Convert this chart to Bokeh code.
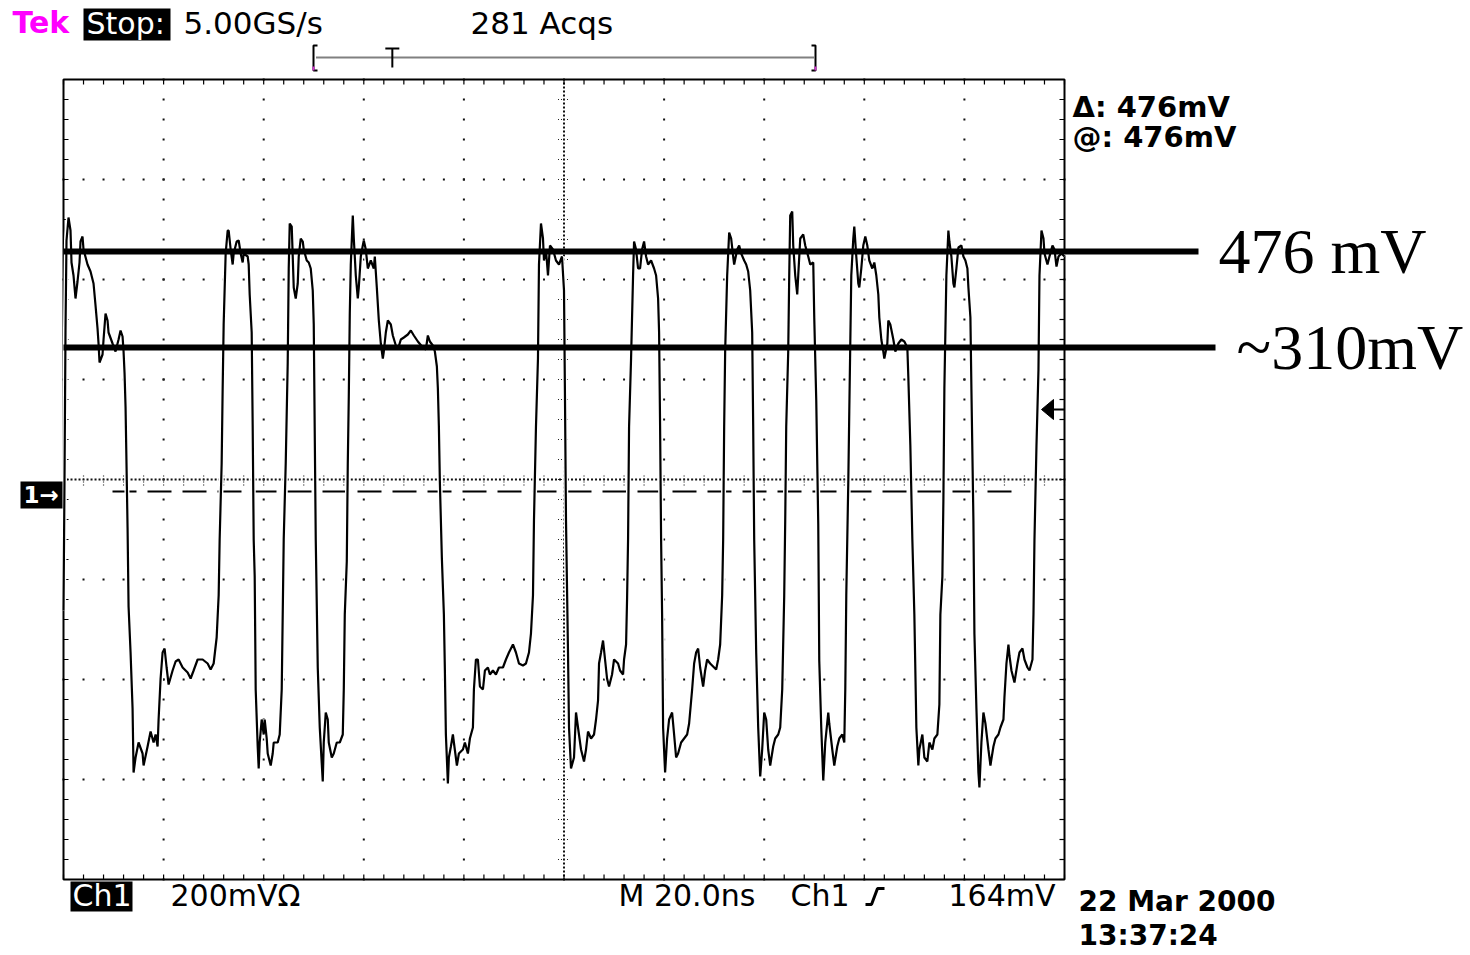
import numpy as np
from bokeh.plotting import figure
from bokeh.models import Range1d
from bokeh.core.properties import value
from bokeh.embed import file_html
from bokeh.resources import INLINE

# ---------------- data ----------------
# Channel 1 trace: time (ns) and voltage (mV, relative to the ground marker)
T_NS = [0.0, 0.2, 0.4, 0.6, 1.0, 1.4, 1.6, 2.0, 2.4, 2.8, 3.2, 3.4, 3.8, 4.0, 4.8, 5.4, 6.0, 6.4, 6.8, 7.0,
        7.2, 7.8, 8.0, 8.4, 8.8, 9.0, 9.8, 10.4, 11.0, 11.4, 11.8, 12.0, 12.2, 12.4, 12.8, 13.0, 13.4, 13.8, 14.0,
        14.4, 15.0, 15.8, 16.0, 16.8, 17.4, 18.0, 18.4, 18.8, 19.0, 19.4, 19.8, 20.2, 20.6, 21.0, 21.8, 22.4, 23.0,
        23.8, 24.8, 25.4, 26.0, 26.8, 27.8, 28.8, 29.4, 30.0, 30.6, 31.0, 31.2, 31.6, 31.8, 32.0, 32.4, 32.8, 33.0,
        33.4, 33.8, 34.0, 34.6, 35.0, 35.4, 35.8, 36.0, 36.8, 37.0, 37.2, 37.6, 37.8, 38.0, 38.2, 38.4, 38.8, 39.0,
        39.2, 39.6, 40.0, 40.2, 40.6, 40.8, 41.4, 41.8, 42.0, 42.8, 43.2, 43.6, 43.8, 44.0, 44.4, 44.8, 45.0, 45.2,
        45.6, 45.8, 46.0, 46.4, 46.8, 47.0, 47.4, 47.8, 48.0, 48.6, 49.0, 49.4, 49.8, 50.0, 50.2, 50.4, 50.8, 51.2,
        51.8, 52.0, 52.4, 52.8, 53.0, 53.6, 54.0, 54.6, 55.2, 55.8, 56.0, 56.2, 56.6, 56.8, 57.0, 57.2, 57.4, 57.8,
        58.0, 58.2, 58.4, 58.8, 59.0, 59.4, 59.8, 60.0, 60.4, 60.8, 61.4, 62.0, 62.2, 62.6, 63.0, 63.4, 63.8, 64.0,
        64.4, 64.8, 65.4, 65.8, 66.4, 66.8, 67.4, 68.0, 68.8, 69.4, 70.0, 70.8, 71.8, 72.4, 72.8, 73.2, 73.8, 74.2,
        74.6, 74.8, 75.0, 75.2, 75.6, 76.0, 76.2, 76.4, 76.8, 77.0, 77.4, 77.8, 78.0, 78.6, 79.0, 79.8, 80.2, 80.8,
        81.2, 81.8, 82.0, 82.4, 82.8, 83.2, 83.8, 84.2, 84.8, 85.2, 85.8, 86.4, 87.0, 87.8, 88.4, 89.0, 89.8, 90.4,
        91.0, 91.8, 92.4, 93.0, 93.4, 93.8, 94.0, 94.4, 94.8, 95.0, 95.4, 95.8, 96.0, 96.4, 96.8, 97.2, 97.8, 98.4,
        99.0, 99.6, 100.0, 100.2, 100.4, 100.8, 101.0, 101.4, 102.0, 102.4, 102.8, 103.4, 104.0, 104.4, 104.8,
        105.4, 106.0, 106.4, 106.8, 107.0, 107.4, 107.8, 108.2, 108.6, 109.0, 109.6, 110.0, 110.8, 111.2, 111.8,
        112.0, 112.4, 112.6, 112.8, 113.0, 113.4, 113.8, 114.0, 114.4, 114.8, 115.2, 115.6, 116.0, 116.4, 116.8,
        117.4, 118.0, 118.4, 118.8, 119.0, 119.2, 119.4, 119.6, 119.8, 120.2, 120.6, 121.0, 121.6, 122.0, 122.4,
        122.8, 123.4, 124.0, 124.6, 125.0, 125.6, 126.0, 126.4, 126.8, 127.2, 127.8, 128.2, 128.6, 129.2, 130.0,
        130.4, 130.8, 131.2, 131.6, 131.8, 132.0, 132.2, 132.6, 133.0, 133.4, 133.8, 134.0, 134.6, 135.0, 135.4,
        136.0, 136.4, 136.8, 137.2, 137.6, 137.8, 138.0, 138.4, 138.8, 139.2, 139.6, 140.0, 140.4, 140.8, 141.2,
        141.8, 142.2, 142.8, 143.2, 143.6, 144.0, 144.2, 144.4, 144.8, 145.0, 145.2, 145.6, 145.8, 146.2, 146.6,
        146.8, 147.2, 147.8, 148.2, 148.8, 149.2, 149.8, 150.0, 150.4, 150.8, 151.0, 151.4, 151.8, 152.2, 152.8,
        153.0, 153.6, 154.0, 154.6, 155.0, 155.6, 156.0, 156.2, 156.4, 156.8, 157.0, 157.4, 157.8, 158.0, 158.4,
        158.8, 159.0, 159.4, 159.8, 160.2, 160.6, 161.0, 161.6, 162.0, 162.4, 162.8, 163.0, 163.4, 163.8, 164.0,
        164.6, 164.8, 165.2, 165.8, 166.2, 166.8, 167.4, 168.0, 168.6, 168.8, 169.0, 169.2, 169.6, 170.0, 170.2,
        170.4, 170.8, 171.0, 171.6, 172.0, 172.6, 173.0, 173.6, 174.0, 174.6, 175.0, 175.2, 175.6, 175.8, 176.0,
        176.4, 176.8, 177.0, 177.4, 177.8, 178.0, 178.4, 178.8, 179.4, 179.8, 180.2, 180.6, 180.8, 181.2, 181.4,
        181.8, 182.0, 182.4, 182.8, 183.0, 183.4, 183.8, 184.2, 184.8, 185.2, 185.8, 186.2, 186.8, 187.2, 187.8,
        188.0, 188.4, 188.8, 189.0, 189.4, 190.0, 190.6, 191.0, 191.6, 192.0, 192.6, 193.0, 193.6, 193.8, 194.0,
        194.4, 194.8, 195.0, 195.4, 195.8, 196.0, 196.6, 197.0, 197.6, 198.0, 198.4, 198.8, 199.4, 200.0]
V_MV = [-238, 22, 322, 502, 548, 522, 458, 432, 386, 420, 458, 500, 510, 484, 454, 440, 416, 372, 326, 296,
        258, 274, 304, 356, 342, 318, 296, 280, 304, 322, 310, 280, 236, 168, -72, -230, -322, -434, -562,
        -532, -502, -524, -548, -510, -480, -502, -486, -510, -456, -374, -322, -314, -352, -386, -358, -340, -336,
        -352, -362, -374, -358, -336, -336, -344, -356, -344, -292, -208, -96, 56, 206, 334, 476, 522, 522,
        484, 454, 476, 500, 502, 476, 458, 476, 470, 454, 394, 318, 130, -96, -170, -396, -510, -554,
        -502, -456, -486, -456, -494, -524, -548, -524, -502, -502, -486, -396, -246, -96, 56, 258, 446, 536,
        530, 470, 408, 386, 416, 470, 506, 500, 484, 462, 458, 446, 402, 334, 116, -96, -352, -472,
        -580, -502, -442, -456, -502, -532, -524, -502, -502, -486, -396, -246, -140, 56, 190, 356, 454, 552,
        506, 470, 432, 386, 408, 470, 492, 502, 484, 446, 462, 446, 470, 408, 342, 296, 266, 280,
        318, 342, 334, 312, 292, 284, 304, 308, 314, 322, 312, 300, 288, 284, 312, 300, 292, 280,
        250, 206, 130, 18, -134, -246, -358, -486, -584, -532, -510, -486, -502, -548, -524, -516, -502, -524,
        -494, -472, -396, -336, -336, -390, -396, -358, -352, -366, -358, -366, -352, -352, -336, -322, -306, -322,
        -344, -348, -344, -322, -284, -208, -58, 130, 266, 454, 536, 506, 462, 484, 432, 492, 484, 462,
        454, 470, 402, 182, -58, -322, -472, -554, -532, -442, -472, -516, -540, -516, -480,
        -494, -486, -456, -418, -344, -322, -298, -336, -374, -390, -366, -336, -344, -358, -366,
        -336, -306, -216, -96, 130, 266, 432, 500, 484, 446, 446, 484, 500, 470, 454,
        462, 446, 432, 386, 318, 130, -96, -246, -472, -562, -494, -456, -442, -486, -532,
        -524, -502, -494, -486, -464, -396, -344, -322, -314, -352, -390, -358, -336, -344, -352,
        -356, -336, -306, -208, -96, 130, 280, 432, 518, 506, 470, 454, 484, 492, 476,
        462, 454, 440, 402, 318, 130, -96, -322, -472, -570, -516, -442, -456, -516, -548,
        -510, -494, -486, -472, -396, -208, -58, 130, 280, 432, 552, 560, 492, 432, 394,
        432, 506, 514, 492, 470, 454, 458, 348, 182, -66, -338, -472, -578, -502, -442,
        -464, -516, -548, -510, -494, -486, -502, -396, -208, 18, 160, 432, 506, 530, 470,
        416, 408, 446, 492, 510, 492, 462, 446, 458, 432, 394, 348, 304, 280, 266,
        296, 342, 334, 304, 280, 296, 304, 300, 288, 228, 160, 92, -96, -246, -358,
        -472, -548, -516, -486, -532, -540, -502, -516, -494, -486, -426, -246, -170, -20, 206,
        432, 522, 500, 470, 416, 408, 446, 488, 492, 470, 462, 446, 408, 348, 206,
        -58, -284, -434, -562, -592, -502, -442, -464, -516, -548, -510, -494, -486, -472, -456,
        -412, -344, -306, -328, -358, -382, -344, -322, -314, -336, -352, -358, -336, -246, -96,
        92, 244, 432, 522, 506, 476, 454, 470, 492, 484, 450, 470, 476, 470]

CURSOR_MV = [480, 288]                 # hand-drawn level lines
CURSOR_LABELS = ["476 mV", "~310mV"]
TRIGGER_MV = 164
TRIGGER_POS_NS = 65.7
GROUND_MV = 0
CENTER_MV = 24
MV_PER_DIV = 200
NS_PER_DIV = 20
N_HDIV, N_VDIV = 10, 8

HEADER = ["Tek", "Stop:", "5.00GS/s", "281 Acqs"]
READOUTS = ["\u0394: 476mV", "@: 476mV"]
FOOTER = ["Ch1", "200mV\u03a9", "M 20.0ns", "Ch1", "164mV"]
STAMP = ["22 Mar 2000", "13:37:24"]

# ---------------- layout (screen mapping) ----------------
W, H = 1470, 955
ORIGIN = 0                 # page px of the canvas corner
X0 = 63.0                  # page px of t = 0
PX_PER_NS = 1001.0 / 200.0
GND_Y = 491.0              # page px of 0 mV
PX_PER_MV = 0.5


def tx(px):
    return (px - X0) / PX_PER_NS


def vy(py):
    return (GND_Y - py) / PX_PER_MV


def base(py, size):
    # texts are placed by their middle; convert a desired baseline to that
    return vy(py - 0.37 * size)


p = figure(width=W, height=H, output_backend="svg", toolbar_location=None,
           x_range=Range1d(tx(ORIGIN), tx(ORIGIN + W)),
           y_range=Range1d(vy(ORIGIN + H), vy(ORIGIN)),
           x_axis_location=None, y_axis_location=None, min_border=0)
p.outline_line_color = None
p.xgrid.visible = False
p.ygrid.visible = False
p.background_fill_color = "white"
p.border_fill_color = "white"

t_end = NS_PER_DIV * N_HDIV
v_bot = CENTER_MV - MV_PER_DIV * N_VDIV / 2
v_top = CENTER_MV + MV_PER_DIV * N_VDIV / 2
t_mid = t_end / 2
t_minor = NS_PER_DIV / 5
v_minor = MV_PER_DIV / 5

# graticule dots
gx, gy = [], []
for i in range(1, N_HDIV):
    if i == N_HDIV // 2:
        continue
    for k in range(N_VDIV * 5 + 1):
        gx.append(i * NS_PER_DIV)
        gy.append(v_bot + k * v_minor)
for j in range(1, N_VDIV):
    if j == N_VDIV // 2:
        continue
    for k in range(N_HDIV * 5 + 1):
        gx.append(k * t_minor)
        gy.append(v_bot + j * MV_PER_DIV)
# dense centre cross
for k in range(int(t_end / 0.8) + 1):
    gx.append(k * 0.8)
    gy.append(CENTER_MV)
for k in range(int((v_top - v_bot) / 8) + 1):
    gx.append(t_mid)
    gy.append(v_bot + k * 8)
p.scatter(gx, gy, marker="square", size=2, color="#111111", line_color=None)

# centre-cross minor ticks
tk = np.arange(0, t_end + 0.01, t_minor)
p.segment(x0=tk, x1=tk, y0=CENTER_MV - 12, y1=CENTER_MV + 12, line_color="#222222",
          line_width=1.2, line_dash="1 2")
vk = np.arange(v_bot, v_top + 0.01, v_minor)
p.segment(x0=t_mid - 1.2, x1=t_mid + 1.2, y0=vk, y1=vk, line_color="#222222",
          line_width=1.2, line_dash="1 2")

# frame edge ticks
p.segment(x0=tk, x1=tk, y0=v_top, y1=v_top - 10, line_color="black", line_width=1.2)
p.segment(x0=tk, x1=tk, y0=v_bot, y1=v_bot + 10, line_color="black", line_width=1.2)
p.segment(x0=0, x1=1.0, y0=vk, y1=vk, line_color="black", line_width=1.2)
p.segment(x0=t_end, x1=t_end - 1.0, y0=vk, y1=vk, line_color="black", line_width=1.2)

# frame
p.quad(left=0, right=t_end, bottom=v_bot, top=v_top, fill_color=None,
       line_color="black", line_width=2)

# ground reference dashed line
p.line([tx(112), tx(1013)], [GROUND_MV, GROUND_MV], line_color="black",
       line_width=2, line_dash="24 11")

# trace (white halo + black core)
p.line(T_NS, V_MV, line_color="white", line_width=5)
p.line(T_NS, V_MV, line_color="black", line_width=2.2)

# hand-drawn level lines and labels
p.segment(x0=[0, 0], x1=[tx(1198), tx(1215)], y0=CURSOR_MV, y1=CURSOR_MV,
          line_color="black", line_width=6)
p.text(x=[tx(1218), tx(1236)], y=[base(275, 64), base(371, 64)], text=CURSOR_LABELS,
       text_font=value("Liberation Serif"), text_font_size="64px",
       text_baseline="middle", text_align="left", text_color="black")

# ground marker "1->"
p.quad(left=tx(20), right=tx(62), top=vy(481), bottom=vy(508), fill_color="black", line_color=None)
p.text(x=[tx(23)], y=[base(503, 23)], text=["1\u2192"], text_font=value("DejaVu Sans"),
       text_font_size="23px", text_font_style="bold", text_color="white", text_baseline="middle")

# trigger level arrow (right edge)
p.patch([tx(1041), tx(1053), tx(1053)], [TRIGGER_MV, TRIGGER_MV + 20, TRIGGER_MV - 20],
        fill_color="black", line_color="black")
p.segment(x0=tx(1053), x1=t_end, y0=TRIGGER_MV, y1=TRIGGER_MV, line_color="black", line_width=2)

# record bar with trigger position
p.line([tx(316), tx(813)], [vy(57), vy(57)], line_color="black", line_width=2, line_dash="1 1")
p.multi_line([[tx(317), tx(313), tx(313), tx(317)], [tx(811), tx(815), tx(815), tx(811)]],
             [[vy(45), vy(45), vy(70), vy(70)], [vy(45), vy(45), vy(70), vy(70)]],
             line_color="black", line_width=2)
p.multi_line([[tx(313), tx(313)], [tx(815), tx(815)]],
             [[vy(66), vy(70)], [vy(66), vy(70)]], line_color="#cc33cc", line_width=2)
p.multi_line([[TRIGGER_POS_NS - 1.4, TRIGGER_POS_NS + 1.4], [TRIGGER_POS_NS, TRIGGER_POS_NS]],
             [[vy(48), vy(48)], [vy(48), vy(67)]], line_color="black", line_width=2)

# header
p.quad(left=tx(83), right=tx(170), top=vy(8), bottom=vy(40), fill_color="black", line_color=None)
scope_font = value("DejaVu Sans")
p.text(x=[tx(12)], y=[base(33, 30)], text=[HEADER[0]], text_font=scope_font, text_font_size="30px",
       text_font_style="bold", text_color="#ff00ff", text_baseline="middle")
p.text(x=[tx(86)], y=[base(34, 30)], text=[HEADER[1]], text_font=scope_font, text_font_size="30px",
       text_color="white", text_baseline="middle")
p.text(x=[tx(183), tx(470)], y=[base(34, 31)] * 2, text=HEADER[2:], text_font=scope_font,
       text_font_size="31px", text_color="black", text_baseline="middle")

# right readouts
p.text(x=[tx(1072), tx(1072)], y=[base(117, 29), base(147, 29)], text=READOUTS, text_font=scope_font,
       text_font_size="29px", text_font_style="bold", text_color="black", text_baseline="middle")

# footer
p.quad(left=tx(70), right=tx(132), top=vy(881), bottom=vy(911), fill_color="black", line_color=None)
p.text(x=[tx(72)], y=[base(906, 30)], text=[FOOTER[0]], text_font=scope_font, text_font_size="30px",
       text_color="white", text_baseline="middle")
p.text(x=[tx(170), tx(618), tx(790), tx(948)], y=[base(906, 30)] * 4, text=FOOTER[1:],
       text_font=scope_font, text_font_size="30px", text_color="black", text_baseline="middle")
p.line([tx(865), tx(871), tx(877), tx(884)], [vy(904), vy(904), vy(888), vy(888)],
       line_color="black", line_width=3)
p.text(x=[tx(1078), tx(1078)], y=[base(911, 28), base(945, 27)], text=STAMP, text_font=scope_font,
       text_font_size="28px", text_font_style="bold", text_color="black", text_baseline="middle")

open("out.html", "w").write(file_html(p, INLINE))
